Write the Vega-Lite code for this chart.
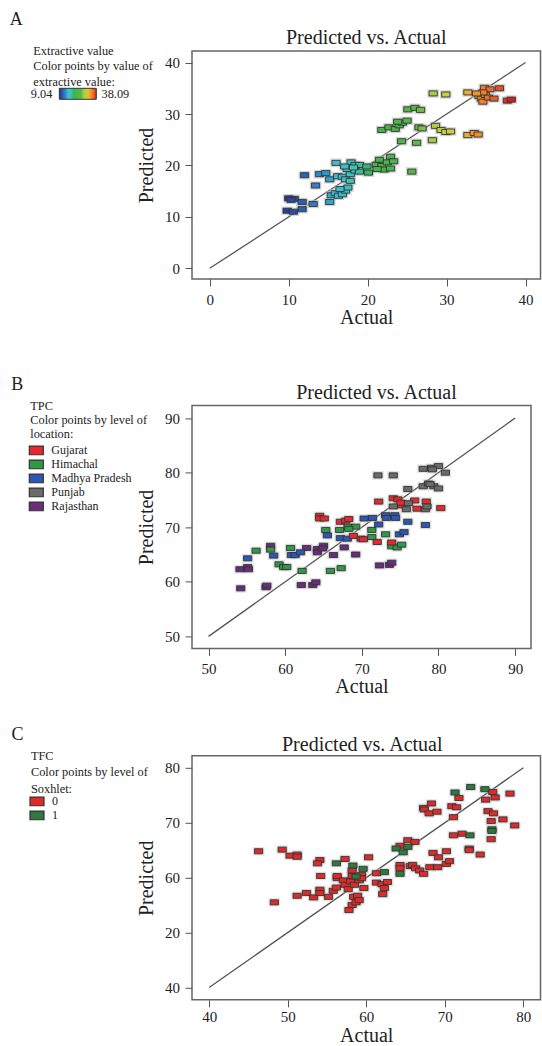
{
  "$schema": "https://vega.github.io/schema/vega-lite/v6.json",
  "padding": {"left": 9, "top": 11, "right": 0, "bottom": 0},
  "spacing": 27.4,
  "datasets": {
    "A": [
      {"actual": 10.0, "predicted": 13.6}, {"actual": 10.7, "predicted": 13.5}, {"actual": 11.7, "predicted": 12.9}, {"actual": 9.8, "predicted": 11.2},
      {"actual": 10.6, "predicted": 11.0}, {"actual": 11.7, "predicted": 11.5}, {"actual": 10.3, "predicted": 13.3}, {"actual": 13.1, "predicted": 12.5},
      {"actual": 12.0, "predicted": 18.1}, {"actual": 13.4, "predicted": 16.1}, {"actual": 13.9, "predicted": 18.3}, {"actual": 14.7, "predicted": 18.5},
      {"actual": 15.2, "predicted": 17.3}, {"actual": 15.2, "predicted": 12.9}, {"actual": 16.0, "predicted": 20.5}, {"actual": 15.4, "predicted": 14.2},
      {"actual": 15.9, "predicted": 14.6}, {"actual": 16.3, "predicted": 14.1}, {"actual": 16.8, "predicted": 14.4}, {"actual": 17.2, "predicted": 15.1},
      {"actual": 17.5, "predicted": 15.7}, {"actual": 16.5, "predicted": 15.4}, {"actual": 16.2, "predicted": 17.9}, {"actual": 16.8, "predicted": 17.8},
      {"actual": 17.2, "predicted": 17.3}, {"actual": 17.8, "predicted": 17.0}, {"actual": 17.8, "predicted": 18.3}, {"actual": 17.4, "predicted": 19.3},
      {"actual": 17.9, "predicted": 20.6}, {"actual": 18.4, "predicted": 20.1}, {"actual": 18.96, "predicted": 20.1}, {"actual": 18.4, "predicted": 19.0},
      {"actual": 18.96, "predicted": 18.8}, {"actual": 18.2, "predicted": 19.6}, {"actual": 17.1, "predicted": 19.8},
      {"actual": 20.1, "predicted": 18.6}, {"actual": 19.9, "predicted": 19.8}, {"actual": 21.1, "predicted": 20.1}, {"actual": 21.5, "predicted": 21.1},
      {"actual": 21.8, "predicted": 19.9}, {"actual": 22.5, "predicted": 20.6}, {"actual": 22.9, "predicted": 21.7}, {"actual": 23.3, "predicted": 20.8},
      {"actual": 22.1, "predicted": 19.2}, {"actual": 22.9, "predicted": 19.4}, {"actual": 21.2, "predicted": 19.3}, {"actual": 25.6, "predicted": 18.8},
      {"actual": 21.8, "predicted": 26.9}, {"actual": 22.7, "predicted": 27.4}, {"actual": 23.5, "predicted": 27.1}, {"actual": 24.0, "predicted": 27.8},
      {"actual": 24.4, "predicted": 28.3}, {"actual": 25.0, "predicted": 28.7}, {"actual": 23.8, "predicted": 28.5}, {"actual": 25.1, "predicted": 30.9},
      {"actual": 26.0, "predicted": 31.2}, {"actual": 26.7, "predicted": 30.8}, {"actual": 24.3, "predicted": 24.7}, {"actual": 26.2, "predicted": 24.4},
      {"actual": 26.5, "predicted": 27.4}, {"actual": 26.9, "predicted": 27.2}, {"actual": 28.2, "predicted": 24.9}, {"actual": 28.6, "predicted": 27.7},
      {"actual": 29.3, "predicted": 26.9}, {"actual": 29.9, "predicted": 26.5}, {"actual": 30.5, "predicted": 26.6}, {"actual": 28.3, "predicted": 34.0},
      {"actual": 29.9, "predicted": 33.8}, {"actual": 32.7, "predicted": 34.2}, {"actual": 32.7, "predicted": 25.9}, {"actual": 33.5, "predicted": 26.3},
      {"actual": 34.0, "predicted": 26.0}, {"actual": 34.8, "predicted": 35.1}, {"actual": 35.5, "predicted": 34.8}, {"actual": 34.1, "predicted": 33.5},
      {"actual": 34.4, "predicted": 33.0}, {"actual": 34.6, "predicted": 32.4}, {"actual": 34.9, "predicted": 33.7}, {"actual": 35.3, "predicted": 33.2},
      {"actual": 36.0, "predicted": 33.0}, {"actual": 34.6, "predicted": 34.2}, {"actual": 36.7, "predicted": 35.0}, {"actual": 37.7, "predicted": 32.6},
      {"actual": 38.2, "predicted": 32.8}, {"actual": 33.8, "predicted": 34.0}
    ],
    "B": [
      {"actual": 54.1, "predicted": 62.3, "location": "Rajasthan"}, {"actual": 55.1, "predicted": 62.7, "location": "Rajasthan"}, {"actual": 55.2, "predicted": 62.3, "location": "Rajasthan"},
      {"actual": 54.2, "predicted": 58.8, "location": "Rajasthan"}, {"actual": 57.5, "predicted": 59.0, "location": "Rajasthan"}, {"actual": 57.6, "predicted": 59.3, "location": "Rajasthan"},
      {"actual": 58.1, "predicted": 66.6, "location": "Rajasthan"}, {"actual": 62.1, "predicted": 59.4, "location": "Rajasthan"}, {"actual": 63.6, "predicted": 59.4, "location": "Rajasthan"},
      {"actual": 64.0, "predicted": 59.9, "location": "Rajasthan"}, {"actual": 62.8, "predicted": 66.2, "location": "Rajasthan"}, {"actual": 64.2, "predicted": 66.0, "location": "Rajasthan"},
      {"actual": 64.2, "predicted": 65.4, "location": "Rajasthan"}, {"actual": 65.0, "predicted": 66.6, "location": "Rajasthan"}, {"actual": 64.9, "predicted": 66.1, "location": "Rajasthan"},
      {"actual": 66.3, "predicted": 64.9, "location": "Rajasthan"}, {"actual": 67.7, "predicted": 66.3, "location": "Rajasthan"}, {"actual": 69.2, "predicted": 65.0, "location": "Rajasthan"},
      {"actual": 72.3, "predicted": 63.0, "location": "Rajasthan"}, {"actual": 73.6, "predicted": 63.1, "location": "Rajasthan"}, {"actual": 73.9, "predicted": 63.5, "location": "Rajasthan"},
      {"actual": 56.2, "predicted": 65.7, "location": "Himachal"}, {"actual": 58.1, "predicted": 65.9, "location": "Himachal"}, {"actual": 59.2, "predicted": 63.2, "location": "Himachal"},
      {"actual": 59.8, "predicted": 62.7, "location": "Himachal"}, {"actual": 60.2, "predicted": 62.7, "location": "Himachal"}, {"actual": 60.7, "predicted": 66.2, "location": "Himachal"},
      {"actual": 62.2, "predicted": 62.0, "location": "Himachal"}, {"actual": 65.9, "predicted": 62.0, "location": "Himachal"}, {"actual": 67.3, "predicted": 62.5, "location": "Himachal"},
      {"actual": 65.3, "predicted": 69.5, "location": "Himachal"}, {"actual": 67.1, "predicted": 69.5, "location": "Himachal"}, {"actual": 68.2, "predicted": 70.1, "location": "Himachal"},
      {"actual": 69.2, "predicted": 70.1, "location": "Himachal"}, {"actual": 68.3, "predicted": 69.7, "location": "Himachal"}, {"actual": 71.3, "predicted": 69.5, "location": "Himachal"},
      {"actual": 71.3, "predicted": 68.2, "location": "Himachal"}, {"actual": 73.1, "predicted": 68.7, "location": "Himachal"}, {"actual": 73.9, "predicted": 66.5, "location": "Himachal"},
      {"actual": 74.6, "predicted": 66.3, "location": "Himachal"}, {"actual": 75.2, "predicted": 66.8, "location": "Himachal"},
      {"actual": 55.1, "predicted": 64.3, "location": "Madhya Pradesh"}, {"actual": 58.5, "predicted": 64.8, "location": "Madhya Pradesh"}, {"actual": 60.8, "predicted": 64.9, "location": "Madhya Pradesh"},
      {"actual": 61.3, "predicted": 64.9, "location": "Madhya Pradesh"}, {"actual": 62.0, "predicted": 65.4, "location": "Madhya Pradesh"}, {"actual": 65.5, "predicted": 68.5, "location": "Madhya Pradesh"},
      {"actual": 67.2, "predicted": 68.0, "location": "Madhya Pradesh"}, {"actual": 68.1, "predicted": 67.9, "location": "Madhya Pradesh"}, {"actual": 70.3, "predicted": 71.6, "location": "Madhya Pradesh"},
      {"actual": 71.4, "predicted": 71.7, "location": "Madhya Pradesh"}, {"actual": 72.2, "predicted": 70.5, "location": "Madhya Pradesh"}, {"actual": 73.1, "predicted": 72.2, "location": "Madhya Pradesh"},
      {"actual": 73.2, "predicted": 71.7, "location": "Madhya Pradesh"}, {"actual": 74.3, "predicted": 72.2, "location": "Madhya Pradesh"}, {"actual": 74.4, "predicted": 71.7, "location": "Madhya Pradesh"},
      {"actual": 74.9, "predicted": 68.7, "location": "Madhya Pradesh"}, {"actual": 75.5, "predicted": 69.1, "location": "Madhya Pradesh"}, {"actual": 76.0, "predicted": 71.0, "location": "Madhya Pradesh"},
      {"actual": 78.3, "predicted": 70.4, "location": "Madhya Pradesh"},
      {"actual": 64.5, "predicted": 72.1, "location": "Gujarat"}, {"actual": 64.5, "predicted": 71.6, "location": "Gujarat"}, {"actual": 65.1, "predicted": 71.6, "location": "Gujarat"},
      {"actual": 67.2, "predicted": 71.0, "location": "Gujarat"}, {"actual": 67.9, "predicted": 71.2, "location": "Gujarat"}, {"actual": 68.3, "predicted": 71.5, "location": "Gujarat"},
      {"actual": 68.9, "predicted": 68.4, "location": "Gujarat"}, {"actual": 69.9, "predicted": 67.9, "location": "Gujarat"}, {"actual": 70.2, "predicted": 67.8, "location": "Gujarat"},
      {"actual": 72.0, "predicted": 67.3, "location": "Gujarat"}, {"actual": 72.2, "predicted": 74.7, "location": "Gujarat"}, {"actual": 73.9, "predicted": 67.2, "location": "Gujarat"},
      {"actual": 74.1, "predicted": 75.3, "location": "Gujarat"}, {"actual": 74.7, "predicted": 75.1, "location": "Gujarat"}, {"actual": 75.2, "predicted": 74.0, "location": "Gujarat"},
      {"actual": 75.1, "predicted": 74.5, "location": "Gujarat"}, {"actual": 76.9, "predicted": 74.9, "location": "Gujarat"}, {"actual": 77.2, "predicted": 73.4, "location": "Gujarat"},
      {"actual": 78.4, "predicted": 74.7, "location": "Gujarat"}, {"actual": 80.3, "predicted": 73.5, "location": "Gujarat"},
      {"actual": 72.1, "predicted": 79.5, "location": "Punjab"}, {"actual": 74.1, "predicted": 79.5, "location": "Punjab"}, {"actual": 74.1, "predicted": 73.8, "location": "Punjab"},
      {"actual": 75.8, "predicted": 73.3, "location": "Punjab"}, {"actual": 76.0, "predicted": 77.0, "location": "Punjab"}, {"actual": 76.1, "predicted": 74.4, "location": "Punjab"},
      {"actual": 78.0, "predicted": 80.7, "location": "Punjab"}, {"actual": 79.1, "predicted": 80.9, "location": "Punjab"}, {"actual": 80.0, "predicted": 81.2, "location": "Punjab"},
      {"actual": 79.2, "predicted": 80.6, "location": "Punjab"}, {"actual": 80.9, "predicted": 80.0, "location": "Punjab"}, {"actual": 78.0, "predicted": 77.5, "location": "Punjab"},
      {"actual": 78.7, "predicted": 78.0, "location": "Punjab"}, {"actual": 79.4, "predicted": 77.5, "location": "Punjab"}, {"actual": 80.0, "predicted": 77.1, "location": "Punjab"},
      {"actual": 78.3, "predicted": 73.3, "location": "Punjab"}, {"actual": 78.5, "predicted": 73.8, "location": "Punjab"}, {"actual": 78.9, "predicted": 77.9, "location": "Punjab"}
    ],
    "C": [
      {"actual": 46.3, "predicted": 64.8, "soxhlet": "0"}, {"actual": 49.3, "predicted": 65.1, "soxhlet": "0"}, {"actual": 50.3, "predicted": 64.0, "soxhlet": "0"},
      {"actual": 51.2, "predicted": 64.2, "soxhlet": "0"}, {"actual": 51.2, "predicted": 63.8, "soxhlet": "0"}, {"actual": 48.3, "predicted": 55.5, "soxhlet": "0"},
      {"actual": 51.2, "predicted": 56.7, "soxhlet": "0"}, {"actual": 52.4, "predicted": 57.2, "soxhlet": "0"}, {"actual": 53.3, "predicted": 56.4, "soxhlet": "0"},
      {"actual": 54.1, "predicted": 63.2, "soxhlet": "0"}, {"actual": 53.8, "predicted": 62.6, "soxhlet": "0"}, {"actual": 54.2, "predicted": 60.3, "soxhlet": "0"},
      {"actual": 54.1, "predicted": 57.8, "soxhlet": "0"}, {"actual": 54.1, "predicted": 57.2, "soxhlet": "0"}, {"actual": 55.2, "predicted": 56.5, "soxhlet": "0"},
      {"actual": 55.8, "predicted": 57.6, "soxhlet": "0"}, {"actual": 56.2, "predicted": 58.2, "soxhlet": "0"}, {"actual": 56.3, "predicted": 59.9, "soxhlet": "0"},
      {"actual": 56.3, "predicted": 60.3, "soxhlet": "0"}, {"actual": 57.3, "predicted": 63.4, "soxhlet": "0"}, {"actual": 57.1, "predicted": 59.5, "soxhlet": "0"},
      {"actual": 57.3, "predicted": 58.7, "soxhlet": "0"}, {"actual": 57.7, "predicted": 57.9, "soxhlet": "0"}, {"actual": 57.8, "predicted": 54.1, "soxhlet": "0"},
      {"actual": 58.2, "predicted": 55.0, "soxhlet": "0"}, {"actual": 58.7, "predicted": 55.5, "soxhlet": "0"}, {"actual": 58.4, "predicted": 56.5, "soxhlet": "0"},
      {"actual": 58.9, "predicted": 56.7, "soxhlet": "0"}, {"actual": 59.1, "predicted": 55.9, "soxhlet": "0"}, {"actual": 58.2, "predicted": 61.3, "soxhlet": "0"},
      {"actual": 58.2, "predicted": 60.3, "soxhlet": "0"}, {"actual": 58.0, "predicted": 59.3, "soxhlet": "0"}, {"actual": 58.5, "predicted": 58.7, "soxhlet": "0"},
      {"actual": 59.1, "predicted": 59.5, "soxhlet": "0"}, {"actual": 59.4, "predicted": 60.5, "soxhlet": "0"}, {"actual": 59.4, "predicted": 59.9, "soxhlet": "0"},
      {"actual": 59.7, "predicted": 58.1, "soxhlet": "0"}, {"actual": 60.3, "predicted": 63.7, "soxhlet": "0"}, {"actual": 61.3, "predicted": 60.8, "soxhlet": "0"},
      {"actual": 61.3, "predicted": 59.1, "soxhlet": "0"}, {"actual": 62.0, "predicted": 58.8, "soxhlet": "0"}, {"actual": 62.3, "predicted": 58.1, "soxhlet": "0"},
      {"actual": 62.1, "predicted": 57.0, "soxhlet": "0"}, {"actual": 62.7, "predicted": 59.2, "soxhlet": "0"}, {"actual": 64.3, "predicted": 62.3, "soxhlet": "0"},
      {"actual": 64.3, "predicted": 61.7, "soxhlet": "0"}, {"actual": 64.3, "predicted": 65.8, "soxhlet": "0"}, {"actual": 65.3, "predicted": 66.8, "soxhlet": "0"},
      {"actual": 66.2, "predicted": 66.5, "soxhlet": "0"}, {"actual": 65.6, "predicted": 62.1, "soxhlet": "0"}, {"actual": 65.9, "predicted": 62.3, "soxhlet": "0"},
      {"actual": 66.3, "predicted": 61.7, "soxhlet": "0"}, {"actual": 66.8, "predicted": 61.3, "soxhlet": "0"}, {"actual": 67.3, "predicted": 60.7, "soxhlet": "0"},
      {"actual": 68.1, "predicted": 61.9, "soxhlet": "0"}, {"actual": 69.1, "predicted": 61.9, "soxhlet": "0"}, {"actual": 68.5, "predicted": 64.5, "soxhlet": "0"},
      {"actual": 69.2, "predicted": 63.7, "soxhlet": "0"}, {"actual": 70.2, "predicted": 64.8, "soxhlet": "0"}, {"actual": 70.2, "predicted": 62.5, "soxhlet": "0"},
      {"actual": 70.6, "predicted": 63.0, "soxhlet": "0"}, {"actual": 67.3, "predicted": 72.7, "soxhlet": "0"}, {"actual": 67.4, "predicted": 72.4, "soxhlet": "0"},
      {"actual": 68.3, "predicted": 73.5, "soxhlet": "0"}, {"actual": 68.0, "predicted": 71.7, "soxhlet": "0"}, {"actual": 69.0, "predicted": 72.0, "soxhlet": "0"},
      {"actual": 70.9, "predicted": 73.0, "soxhlet": "0"}, {"actual": 71.5, "predicted": 72.8, "soxhlet": "0"}, {"actual": 71.8, "predicted": 74.5, "soxhlet": "0"},
      {"actual": 71.1, "predicted": 71.0, "soxhlet": "0"}, {"actual": 71.1, "predicted": 67.7, "soxhlet": "0"}, {"actual": 72.2, "predicted": 68.0, "soxhlet": "0"},
      {"actual": 73.1, "predicted": 65.3, "soxhlet": "0"}, {"actual": 73.1, "predicted": 65.0, "soxhlet": "0"}, {"actual": 74.5, "predicted": 64.2, "soxhlet": "0"},
      {"actual": 75.2, "predicted": 74.2, "soxhlet": "0"}, {"actual": 76.1, "predicted": 75.6, "soxhlet": "0"}, {"actual": 76.4, "predicted": 74.6, "soxhlet": "0"},
      {"actual": 78.3, "predicted": 75.3, "soxhlet": "0"}, {"actual": 75.5, "predicted": 72.1, "soxhlet": "0"}, {"actual": 76.2, "predicted": 71.7, "soxhlet": "0"},
      {"actual": 75.9, "predicted": 70.3, "soxhlet": "0"}, {"actual": 77.4, "predicted": 70.6, "soxhlet": "0"}, {"actual": 78.9, "predicted": 69.5, "soxhlet": "0"},
      {"actual": 75.9, "predicted": 67.0, "soxhlet": "0"},
      {"actual": 56.2, "predicted": 62.6, "soxhlet": "1"}, {"actual": 58.3, "predicted": 62.2, "soxhlet": "1"}, {"actual": 59.6, "predicted": 61.6, "soxhlet": "1"},
      {"actual": 58.7, "predicted": 60.2, "soxhlet": "1"}, {"actual": 63.8, "predicted": 65.3, "soxhlet": "1"}, {"actual": 64.7, "predicted": 64.6, "soxhlet": "1"},
      {"actual": 62.3, "predicted": 61.0, "soxhlet": "1"}, {"actual": 64.3, "predicted": 60.7, "soxhlet": "1"}, {"actual": 65.3, "predicted": 65.6, "soxhlet": "1"},
      {"actual": 71.3, "predicted": 75.5, "soxhlet": "1"}, {"actual": 73.3, "predicted": 76.5, "soxhlet": "1"}, {"actual": 75.1, "predicted": 76.1, "soxhlet": "1"},
      {"actual": 73.2, "predicted": 67.7, "soxhlet": "1"}, {"actual": 76.0, "predicted": 68.8, "soxhlet": "1"}, {"actual": 76.0, "predicted": 68.5, "soxhlet": "1"}
    ]
  },
  "vconcat": [
    {
      "title": {"text": "A", "anchor": "start", "frame": "bounds", "fontSize": 18, "baseline": "alphabetic", "offset": -16, "dx": -49.5},
      "vconcat": [
        {
          "width": 348.5, "height": 228,
          "title": {"text": "Predicted vs. Actual", "fontSize": 20, "anchor": "middle", "frame": "group", "baseline": "alphabetic", "offset": -13.1},
          "layer": [
            {
              "data": {"values": [{"actual": 0, "predicted": 0}, {"actual": 40, "predicted": 40}]},
              "mark": {"type": "line", "color": "#555", "strokeWidth": 1.3},
              "encoding": {
                "x": {"field": "actual", "type": "quantitative", "scale": {"domain": [-2.25, 41.9], "nice": false, "zero": false}, "axis": {"values": [0, 10, 20, 30, 40], "title": ["Actual", ""], "titleLineHeight": 19}},
                "y": {"field": "predicted", "type": "quantitative", "scale": {"domain": [-2.08, 42.25], "nice": false, "zero": false}, "axis": {"values": [0, 10, 20, 30, 40], "title": "Predicted"}}
              }
            },
            {
              "data": {"name": "A"},
              "mark": {"type": "point", "shape": "M-1.17,-0.72H1.17V0.72H-1.17Z", "filled": false, "size": 49, "stroke": "#bbbbbb", "strokeWidth": 3.5, "strokeOpacity": 0.6},
              "encoding": {
                "x": {"field": "actual", "type": "quantitative"},
                "y": {"field": "predicted", "type": "quantitative"},
                "opacity": {
                  "datum": " ", "type": "nominal", "scale": {"range": [1]},
                  "legend": {
                    "title": ["Extractive value", "Color points by value of", "extractive value:"],
                    "titleLineHeight": 15.5, "titlePadding": 0,
                    "symbolOpacity": 0, "symbolSize": 1, "labelFontSize": 2,
                    "legendX": -158.7, "legendY": -6.2
                  }
                }
              }
            },
            {
              "data": {"name": "A"},
              "mark": {"type": "point", "shape": "M-1.17,-0.72H1.17V0.72H-1.17Z", "filled": true, "size": 49, "stroke": "#333", "strokeWidth": 0.9, "opacity": 1},
              "encoding": {
                "x": {"field": "actual", "type": "quantitative"},
                "y": {"field": "predicted", "type": "quantitative"},
                "color": {
                  "field": "actual", "type": "quantitative",
                  "scale": {
                    "domain": [9.04, 11, 13.5, 16, 18.5, 20.5, 26, 28.5, 31, 33, 35, 38.09],
                    "range": ["#22388f", "#2a52a8", "#3480c8", "#40bcd2", "#45c4b0", "#40b24a", "#56b848", "#a9d046", "#d8cf3c", "#f2a530", "#f07628", "#dc2222"]
                  },
                  "legend": {
                    "title": null,
                    "direction": "horizontal", "gradientLength": 37, "gradientThickness": 11,
                    "values": [-13.33, 63.94], "labelExpr": "datum.value < 20 ? '9.04' : '38.09'", "labelOverlap": false,
                    "legendX": -132.7, "legendY": 37.3,
                    "labelOffset": -11,
                    "gradientStrokeColor": "#333", "gradientStrokeWidth": 1
                  }
                }
              }
            }
          ]
        }
      ]
    },
    {
      "title": {"text": "B", "anchor": "start", "frame": "bounds", "fontSize": 18, "baseline": "alphabetic", "offset": -25.8, "dx": -19},
      "vconcat": [
        {
          "width": 339, "height": 243,
          "title": {"text": "Predicted vs. Actual", "fontSize": 20, "anchor": "middle", "frame": "group", "baseline": "alphabetic", "offset": -13.8, "dx": 15},
          "layer": [
            {
              "data": {"values": [{"actual": 50, "predicted": 50}, {"actual": 90, "predicted": 90}]},
              "mark": {"type": "line", "color": "#555", "strokeWidth": 1.3},
              "encoding": {
                "x": {"field": "actual", "type": "quantitative", "scale": {"domain": [47.84, 92.07], "nice": false, "zero": false}, "axis": {"values": [50, 60, 70, 80, 90], "title": "Actual"}},
                "y": {"field": "predicted", "type": "quantitative", "scale": {"domain": [47.8, 92.32], "nice": false, "zero": false}, "axis": {"values": [50, 60, 70, 80, 90], "title": "Predicted"}}
              }
            },
            {
              "data": {"name": "B"},
              "mark": {"type": "point", "shape": "M-1.17,-0.72H1.17V0.72H-1.17Z", "filled": false, "size": 49, "stroke": "#bbbbbb", "strokeWidth": 3.5, "strokeOpacity": 0.6},
              "encoding": {"x": {"field": "actual", "type": "quantitative"}, "y": {"field": "predicted", "type": "quantitative"}}
            },
            {
              "data": {"name": "B"},
              "mark": {"type": "point", "shape": "M-1.17,-0.72H1.17V0.72H-1.17Z", "filled": true, "size": 49, "stroke": "#333", "strokeWidth": 0.9, "opacity": 1},
              "encoding": {
                "x": {"field": "actual", "type": "quantitative"},
                "y": {"field": "predicted", "type": "quantitative"},
                "color": {
                  "field": "location", "type": "nominal",
                  "scale": {"domain": ["Gujarat", "Himachal", "Madhya Pradesh", "Punjab", "Rajasthan"], "range": ["#e8282c", "#2e9a48", "#2a58b4", "#6b6b6b", "#6a2c7c"]},
                  "legend": {
                    "title": ["TPC", "Color points by level of", "location:"],
                    "titleLineHeight": 14, "titlePadding": 4,
                    "symbolType": "M-1.75,-1.09H1.75V1.09H-1.75Z", "symbolSize": 64,
                    "symbolStrokeColor": "#333", "symbolStrokeWidth": 1.2, "symbolOpacity": 1,
                    "labelFontSize": 12, "labelOffset": 9, "rowPadding": 0,
                    "legendX": -161.7, "legendY": -5.3
                  }
                }
              }
            }
          ]
        }
      ]
    },
    {
      "title": {"text": "C", "anchor": "start", "frame": "bounds", "fontSize": 18, "baseline": "alphabetic", "offset": -24.3, "dx": -19.5},
      "vconcat": [
        {
          "width": 348.5, "height": 244,
          "title": {"text": "Predicted vs. Actual", "fontSize": 20, "anchor": "middle", "frame": "group", "baseline": "alphabetic", "offset": -15, "dx": -4},
          "layer": [
            {
              "data": {"values": [{"actual": 40, "predicted": 40}, {"actual": 80, "predicted": 80}]},
              "mark": {"type": "line", "color": "#555", "strokeWidth": 1.3},
              "encoding": {
                "x": {"field": "actual", "type": "quantitative", "scale": {"domain": [37.82, 82.18], "nice": false, "zero": false}, "axis": {"values": [40, 50, 60, 70, 80], "title": "Actual", "labelPadding": 3}},
                "y": {"field": "predicted", "type": "quantitative", "scale": {"domain": [37.76, 82.18], "nice": false, "zero": false}, "axis": {"values": [40, 50, 60, 70, 80], "title": "Predicted", "labelExpr": "datum.value == 50 ? '20' : datum.label"}}
              }
            },
            {
              "data": {"name": "C"},
              "mark": {"type": "point", "shape": "M-1.17,-0.72H1.17V0.72H-1.17Z", "filled": false, "size": 49, "stroke": "#bbbbbb", "strokeWidth": 3.5, "strokeOpacity": 0.6},
              "encoding": {"x": {"field": "actual", "type": "quantitative"}, "y": {"field": "predicted", "type": "quantitative"}}
            },
            {
              "data": {"name": "C"},
              "mark": {"type": "point", "shape": "M-1.17,-0.72H1.17V0.72H-1.17Z", "filled": true, "size": 49, "stroke": "#333", "strokeWidth": 0.9, "opacity": 1},
              "encoding": {
                "x": {"field": "actual", "type": "quantitative"},
                "y": {"field": "predicted", "type": "quantitative"},
                "color": {
                  "field": "soxhlet", "type": "nominal",
                  "scale": {"domain": ["0", "1"], "range": ["#e02a2a", "#2c7a3c"]},
                  "legend": {
                    "title": ["TFC", "Color points by level of", "Soxhlet:"],
                    "titleLineHeight": 16.5, "titlePadding": 0.5,
                    "symbolType": "M-1.75,-1.09H1.75V1.09H-1.75Z", "symbolSize": 64,
                    "symbolStrokeColor": "#333", "symbolStrokeWidth": 1.2, "symbolOpacity": 1,
                    "labelFontSize": 12, "labelOffset": 9, "rowPadding": 0,
                    "legendX": -161, "legendY": -6.2
                  }
                }
              }
            }
          ]
        }
      ]
    }
  ],
  "config": {
    "font": "Liberation Serif",
    "view": {"stroke": "#666", "strokeWidth": 1.5},
    "axis": {"domain": false, "grid": false, "tickSize": 7, "tickColor": "#555", "labelFont": "Liberation Serif", "labelFontSize": 15, "labelColor": "#222", "labelPadding": 3, "titleFont": "Liberation Serif", "titleFontSize": 20, "titleFontWeight": "normal", "titleColor": "#222"},
    "axisX": {"titlePadding": 0.4, "labelPadding": 6},
    "axisY": {"titlePadding": 8.6, "labelPadding": 5.4},
    "legend": {"orient": "none", "titleFont": "Liberation Serif", "titleFontWeight": "normal", "titleFontSize": 12.3, "labelFont": "Liberation Serif", "labelFontSize": 12.3, "titleColor": "#222", "labelColor": "#222"},
    "title": {"font": "Liberation Serif", "fontWeight": "normal", "color": "#222"}
  }
}
